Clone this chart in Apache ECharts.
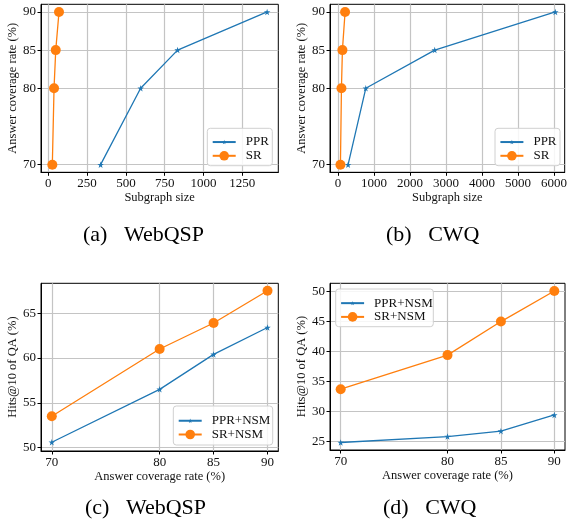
<!DOCTYPE html>
<html>
<head>
<meta charset="utf-8">
<script src="https://cdn.jsdelivr.net/npm/echarts@6/dist/echarts.min.js"></script>
<style>html,body{margin:0;padding:0;background:#fff}#c{width:570px;height:530px}</style>
</head>
<body>
<div id="c"></div>
<script>
// ---- data ----
const coverage = [70, 80, 85, 90];
const pprSizeWebQSP = [337, 595, 833, 1410];
const srSizeWebQSP = [26, 37, 48, 69];
const pprSizeCWQ = [278, 769, 2685, 6037];
const srSizeCWQ = [65, 93, 120, 194];
const pprHitsWebQSP = [50.6, 56.5, 60.4, 63.4];
const srHitsWebQSP = [53.5, 61.0, 63.9, 67.5];
const pprHitsCWQ = [24.8, 25.8, 26.7, 29.4];
const srHitsCWQ = [33.7, 39.4, 45.0, 50.1];
// tick labels
const sizeTicksWebQSP = [0, 250, 500, 750, 1000, 1250];
const sizeTicksCWQ = [0, 1000, 2000, 3000, 4000, 5000, 6000];
const coverageTicks = [70, 80, 85, 90];
const hitsTicksWebQSP = [50, 55, 60, 65];
const hitsTicksCWQ = [25, 30, 35, 40, 45, 50];
const captions = ['(a)   WebQSP', '(b)   CWQ', '(c)   WebQSP', '(d)   CWQ'];
const sizeName = 'Subgraph size';
const coverageName = 'Answer coverage rate (%)';
const hitsName = 'Hits@10 of QA (%)';
const pprName = 'PPR', srName = 'SR', pprNsmName = 'PPR+NSM', srNsmName = 'SR+NSM';

// ---- styles ----
const FONT = 'Liberation Serif';
const BLUE = '#1f77b4', ORANGE = '#ff7f0e';
const TXT = '#111';
const STAR = 'path://M50,0 L61.2,34.5 L97.6,34.5 L68.2,55.9 L79.4,90.5 L50,69.1 L20.6,90.5 L31.8,55.9 L2.4,34.5 L38.8,34.5 Z';

function axis(gridIndex, ticks, min, max, name, nameGap) {
  return {
    type: 'value', gridIndex, min, max,
    name, nameLocation: 'middle', nameGap,
    nameTextStyle: { fontFamily: FONT, fontSize: 12.5, color: TXT },
    axisLine: { show: true, onZero: false, lineStyle: { color: '#000', width: 1 } },
    axisTick: { show: true, length: 3.5, customValues: ticks, lineStyle: { color: '#000', width: 1 } },
    axisLabel: { customValues: ticks, margin: 5, fontFamily: FONT, fontSize: 13, color: TXT,
                 formatter: v => String(v) },
    splitLine: { show: true, lineStyle: { color: '#c4c4c4', width: 1.2 } }
  };
}

const grids = [
  { left: 41, top: 4.3, width: 237.3, height: 168 },
  { left: 330, top: 4.3, width: 235, height: 168 },
  { left: 41, top: 283.3, width: 237.3, height: 167.7 },
  { left: 330, top: 283.3, width: 235, height: 166.7 }
].map(g => Object.assign(g, { show: true, borderColor: '#000', borderWidth: 1, backgroundColor: 'transparent' }));

const xAxes = [
  axis(0, sizeTicksWebQSP, -47, 1482, sizeName, 14),
  axis(1, sizeTicksCWQ, -225, 6297, sizeName, 14),
  axis(2, coverageTicks, 69, 91, coverageName, 14.3),
  axis(3, coverageTicks, 69, 91, coverageName, 15)
];
const yAxes = [
  axis(0, coverageTicks, 69, 91, coverageName, 16.5),
  axis(1, coverageTicks, 69, 91, coverageName, 16.8),
  axis(2, hitsTicksWebQSP, 49.62, 68.33, hitsName, 16.2),
  axis(3, hitsTicksCWQ, 23.55, 51.39, hitsName, 16.5)
];

function pairs(xs, ys) { return xs.map((x, i) => [x, ys[i]]); }

function lineSeries(name, idx, data, isSR) {
  const color = isSR ? ORANGE : BLUE;
  return {
    type: 'line', name, xAxisIndex: idx, yAxisIndex: idx, data,
    symbol: isSR ? 'circle' : STAR, symbolSize: isSR ? 10 : 6.5,
    showAllSymbol: true, animation: false, z: isSR ? 3 : 2,
    lineStyle: { color, width: 1.3 },
    itemStyle: { color, borderWidth: 0 },
    emphasis: { disabled: true }
  };
}

const series = [
  lineSeries(pprName, 0, pairs(pprSizeWebQSP, coverage), false),
  lineSeries(srName, 0, pairs(srSizeWebQSP, coverage), true),
  lineSeries(pprName, 1, pairs(pprSizeCWQ, coverage), false),
  lineSeries(srName, 1, pairs(srSizeCWQ, coverage), true),
  lineSeries(pprNsmName, 2, pairs(coverage, pprHitsWebQSP), false),
  lineSeries(srNsmName, 2, pairs(coverage, srHitsWebQSP), true),
  lineSeries(pprNsmName, 3, pairs(coverage, pprHitsCWQ), false),
  lineSeries(srNsmName, 3, pairs(coverage, srHitsCWQ), true)
];

// legend boxes: [x, y, w, h, iconLeft, row1CenterY, row2CenterY, names]
const legendBoxes = [
  [207.3, 128.3, 65, 37.4, 211.7, 138.3, 155.3, [pprName, srName]],
  [495, 128.3, 65, 37.4, 499.4, 138.3, 155.3, [pprName, srName]],
  [173.3, 406, 99.4, 39, 177.7, 417, 434, [pprNsmName, srNsmName]],
  [335.7, 289, 97.6, 37.7, 340.1, 299.4, 316.4, [pprNsmName, srNsmName]]
];
const legends = [];
const graphics = [];
legendBoxes.forEach(b => {
  graphics.push({
    type: 'rect', z: 3, silent: true,
    shape: { x: b[0], y: b[1], width: b[2], height: b[3], r: 3 },
    style: { fill: 'rgba(255,255,255,0.85)', stroke: '#d0d0d0', lineWidth: 1 }
  });
  [[b[7][0], 5.5, b[5]], [b[7][1], 12, b[6]]].forEach(([nm, h, cy]) => {
    legends.push({
      data: [nm], left: b[4], top: cy - h / 2, padding: 0,
      itemWidth: 23, itemHeight: h, selectedMode: false, z: 5,
      formatter: '{name}',
      textStyle: { fontFamily: FONT, fontSize: 13, color: TXT, padding: [0, 0, 0, 5] }
    });
  });
});

const capPos = [[83, 236], [386, 236], [85, 509], [383, 509]];
captions.forEach((t, i) => {
  graphics.push({
    type: 'text', left: capPos[i][0], top: capPos[i][1] - 12, silent: true,
    style: { text: t, fontFamily: FONT, fontSize: 22, fill: '#000' }
  });
});

const chart = echarts.init(document.getElementById('c'), null, { renderer: 'canvas' });
chart.setOption({
  animation: false,
  backgroundColor: '#fff',
  grid: grids,
  xAxis: xAxes,
  yAxis: yAxes,
  legend: legends,
  graphic: graphics,
  series
});
</script>
</body>
</html>
